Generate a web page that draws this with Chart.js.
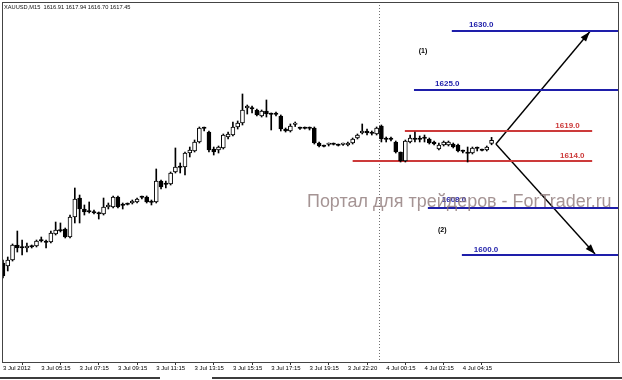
<!DOCTYPE html>
<html><head><meta charset="utf-8">
<script src="https://cdn.jsdelivr.net/npm/chart.js@4"></script>
<style>
html,body{margin:0;padding:0;background:#fff}
#wrap{position:relative;width:622px;height:380px;overflow:hidden}
.strip{position:absolute;top:377px;height:2px;background:#3c3c3c}
</style>
</head><body>
<div id="wrap"><canvas id="c" width="622" height="380"></canvas>
<div class="strip" style="left:0;width:160px"></div>
<div class="strip" style="left:212px;width:410px"></div>
</div>
<script>
const symbolTitle = "XAUUSD,M15";
const watermarkText = "Портал для трейдеров - ForTrader.ru";

const opens = [
1597.0,1596.5,1597.5,1600.0,1599.67,1599.5,1599.83,1599.83,1600.83,1600.67,
1600.5,1601.83,1602.5,1602.67,1601.33,1604.67,1607.83,1606.0,1605.67,1605.5,
1605.33,1605.17,1606.33,1606.33,1608.0,1606.67,1606.83,1607.0,1607.17,1608.0,
1608.0,1607.17,1607.17,1610.67,1610.17,1610.17,1612.17,1613.0,1613.0,1615.33,
1615.67,1617.17,1619.5,1618.83,1616.0,1615.83,1616.17,1618.0,1618.33,1619.67,
1620.33,1622.83,1622.83,1622.5,1621.5,1622.33,1621.83,1621.83,1621.5,1619.33,
1619.0,1620.08,1619.5,1619.5,1619.5,1619.5,1617.0,1616.5,1616.75,1616.83,
1616.67,1616.75,1616.67,1617.0,1617.83,1618.67,1619.0,1618.67,1618.5,1619.83,
1617.67,1617.67,1617.17,1615.5,1614.0,1617.17,1617.67,1617.67,1617.83,1617.67,
1617.17,1616.0,1616.67,1616.67,1616.83,1616.67,1615.67,1615.33,1615.33,1616.17,
1615.83,1615.83,1616.91];
const highs = [
1597.5,1598.0,1600.17,1602.33,1600.83,1600.33,1600.0,1600.83,1601.33,1600.83,
1602.33,1603.83,1603.67,1602.83,1605.0,1609.5,1608.33,1606.67,1607.17,1605.83,
1605.5,1607.83,1607.0,1608.17,1608.17,1607.0,1607.0,1607.5,1607.83,1608.17,
1608.17,1607.5,1612.67,1610.83,1610.67,1612.17,1616.17,1613.67,1615.5,1616.33,
1617.5,1619.67,1619.67,1619.0,1616.33,1616.5,1618.5,1618.83,1620.5,1620.67,
1625.17,1623.33,1623.17,1622.67,1622.5,1624.17,1622.0,1622.17,1621.67,1619.5,
1620.17,1620.5,1619.67,1619.67,1619.67,1619.67,1617.17,1616.67,1617.0,1617.0,
1616.83,1617.0,1617.17,1617.83,1618.5,1620.17,1619.33,1619.0,1619.67,1620.0,
1618.0,1618.0,1617.33,1615.5,1617.5,1618.33,1618.83,1618.17,1618.33,1617.83,
1617.33,1617.0,1617.33,1617.33,1617.0,1616.83,1615.83,1616.33,1616.33,1616.33,
1616.0,1616.5,1617.94];
const lows = [
1594.5,1595.67,1597.33,1598.83,1598.33,1598.83,1599.5,1599.67,1600.5,1599.5,
1600.33,1601.67,1602.17,1601.17,1601.17,1603.67,1603.67,1605.0,1605.33,1605.17,
1604.33,1605.0,1606.0,1606.17,1606.17,1606.0,1606.67,1606.83,1607.0,1607.67,
1607.0,1606.67,1607.0,1609.33,1609.5,1610.0,1612.0,1612.0,1611.67,1614.67,
1615.5,1617.0,1619.0,1615.5,1615.0,1615.33,1616.0,1617.67,1618.17,1619.33,
1620.0,1621.83,1622.0,1621.5,1621.33,1621.33,1619.17,1621.5,1619.0,1618.83,
1618.83,1619.75,1619.25,1619.33,1619.17,1616.83,1616.33,1616.33,1616.5,1616.67,
1616.5,1616.58,1616.5,1616.83,1617.67,1618.5,1618.33,1618.33,1618.33,1617.17,
1617.17,1617.33,1615.33,1613.83,1613.83,1617.0,1617.17,1617.17,1617.17,1616.83,
1616.67,1615.83,1616.5,1616.5,1616.17,1615.5,1615.33,1613.83,1615.17,1615.67,
1615.67,1615.67,1616.70];
const closes = [
1594.83,1597.5,1600.0,1599.5,1599.5,1599.83,1599.67,1600.67,1600.67,1600.42,
1602.0,1602.5,1602.33,1601.33,1604.67,1607.67,1606.0,1605.5,1605.5,1605.33,
1605.17,1606.33,1606.67,1608.0,1606.33,1606.58,1606.75,1607.33,1607.67,1607.92,
1607.17,1607.08,1610.67,1609.67,1610.08,1612.0,1613.0,1612.92,1615.33,1615.83,
1617.17,1619.5,1619.42,1615.83,1615.5,1616.33,1618.33,1618.5,1619.67,1620.33,
1622.5,1623.17,1622.67,1621.67,1622.33,1621.83,1621.75,1621.75,1619.33,1619.0,
1619.83,1620.17,1619.42,1619.42,1619.42,1617.0,1616.5,1616.42,1616.83,1616.75,
1616.58,1616.83,1617.0,1617.67,1618.33,1619.0,1618.67,1618.58,1619.5,1617.67,
1617.58,1617.58,1615.5,1614.0,1617.33,1617.83,1617.58,1617.58,1617.75,1617.0,
1616.83,1616.67,1617.17,1617.17,1616.33,1615.67,1615.58,1615.25,1616.17,1616.08,
1615.75,1616.33,1617.45];

const tickBars = [0,8,16,24,32,40,48,56,64,72,80,88,96];
const tickLabels = ["3 Jul 2012","3 Jul 05:15","3 Jul 07:15","3 Jul 09:15","3 Jul 11:15","3 Jul 13:15","3 Jul 15:15","3 Jul 17:15","3 Jul 19:15","3 Jul 22:20","4 Jul 00:15","4 Jul 02:15","4 Jul 04:15"];

// drawn levels (chart price units) and their printed labels
const levelValues = [1635.67, 1625.83, 1619.0, 1614.0, 1606.17, 1598.33];
const levelLabels = ["1630.0","1625.0","1619.0","1614.0","1608.0","1600.0"];
const scenarioLabels = ["(1)","(2)"];
const arrowFrom = 1616.83;
const arrowTargets = [1635.55, 1598.5];

// ---- layout / style (not data) ----
const levelLayout = [
  {start:93.7, end:128.6, color:'#1e1eaa', labelBar:97.3, dy:-6},
  {start:85.8, end:128.6, color:'#1e1eaa', labelBar:90.2, dy:-6},
  {start:83.9, end:123.0, color:'#cc3a3a', labelBar:115.3, dy:-5},
  {start:73.0, end:123.0, color:'#cc3a3a', labelBar:116.3, dy:-5},
  {start:88.7, end:128.6, color:'#1e1eaa', labelBar:91.6, dy:-8},
  {start:95.8, end:128.6, color:'#1e1eaa', labelBar:98.3, dy:-5}
];
const scenarioLayout = [{bar:86.8, price:1632.25},{bar:90.8, price:1602.5}];
const arrowLayout = {fromBar:102.9, toBars:[122.5, 123.6]};
const separatorBar = 78.6;

const n = opens.length;
const idx = opens.map((_, i) => i);

const datasets = [];
datasets.push({
  type:'bar', label:'body', order:0, grouped:false,
  data: idx.map(i => ({x:i, y:[Math.min(opens[i],closes[i]), Math.max(opens[i],closes[i])]})),
  backgroundColor: idx.map(i => closes[i] >= opens[i] ? '#ffffff' : '#000000'),
  borderColor:'#000000', borderWidth:1, borderSkipped:false,
  barThickness:4, minBarLength:1.5
});
datasets.push({
  type:'bar', label:'wick', order:1, grouped:false,
  data: idx.map(i => ({x:i, y:[lows[i], highs[i]]})),
  backgroundColor:'#000000', borderWidth:0, barThickness:1
});
levelValues.forEach((v, k) => {
  const L = levelLayout[k];
  datasets.push({
    type:'line', label:levelLabels[k], order:2,
    data:[{x:L.start, y:v},{x:L.end, y:v}],
    borderColor:L.color, borderWidth:2, pointRadius:0, fill:false
  });
});
const arrowIdx = [];
arrowTargets.forEach((t, k) => {
  arrowIdx.push(datasets.length);
  datasets.push({
    type:'line', label:'arrow'+k, order:2,
    data:[{x:arrowLayout.fromBar, y:arrowFrom},{x:arrowLayout.toBars[k], y:t}],
    borderColor:'#000000', borderWidth:1.4, pointRadius:0, fill:false
  });
});

const overlay = {
  id:'overlay',
  beforeDatasetsDraw(chart){
    const {ctx, chartArea:a, scales:{x}} = chart;
    ctx.save();
    ctx.strokeStyle = '#707070'; ctx.lineWidth = 1; ctx.setLineDash([1,2]);
    const sx = Math.round(x.getPixelForValue(separatorBar)) + 0.5;
    ctx.beginPath(); ctx.moveTo(sx, a.top); ctx.lineTo(sx, a.bottom); ctx.stroke();
    ctx.restore();
  },
  afterDatasetsDraw(chart){
    const {ctx, chartArea:a, scales:{x, y}} = chart;
    ctx.save();
    arrowIdx.forEach(di => {
      const pts = chart.getDatasetMeta(di).data;
      const p0 = pts[0], p1 = pts[1];
      const ang = Math.atan2(p1.y - p0.y, p1.x - p0.x);
      const len = 10, hw = 3.5;
      ctx.fillStyle = '#000';
      ctx.beginPath();
      ctx.moveTo(p1.x, p1.y);
      ctx.lineTo(p1.x - len*Math.cos(ang) + hw*Math.sin(ang), p1.y - len*Math.sin(ang) - hw*Math.cos(ang));
      ctx.lineTo(p1.x - len*Math.cos(ang) - hw*Math.sin(ang), p1.y - len*Math.sin(ang) + hw*Math.cos(ang));
      ctx.closePath(); ctx.fill();
    });
    ctx.font = 'bold 8px "Liberation Sans", Arial, sans-serif';
    ctx.textBaseline = 'middle'; ctx.textAlign = 'left';
    levelValues.forEach((v, k) => {
      const L = levelLayout[k];
      ctx.fillStyle = L.color;
      ctx.fillText(levelLabels[k], x.getPixelForValue(L.labelBar), y.getPixelForValue(v) + L.dy);
    });
    ctx.font = 'bold 7px "Liberation Sans", Arial, sans-serif';
    ctx.fillStyle = '#000';
    scenarioLabels.forEach((t, k) => {
      const S = scenarioLayout[k];
      ctx.fillText(t, x.getPixelForValue(S.bar), y.getPixelForValue(S.price));
    });
    ctx.restore();
  },
  afterDraw(chart){
    const {ctx, chartArea:a} = chart;
    ctx.save();
    ctx.strokeStyle = '#444'; ctx.lineWidth = 1;
    ctx.strokeRect(a.left + 0.5, a.top + 0.5, a.right - a.left - 1, a.bottom - a.top);
    const last = n - 1;
    const head = symbolTitle + '  ' + [opens[last], highs[last], lows[last], closes[last]].map(v => v.toFixed(2)).join(' ');
    ctx.font = '5.7px "Liberation Sans", Arial, sans-serif';
    ctx.fillStyle = '#111'; ctx.textBaseline = 'middle'; ctx.textAlign = 'left';
    ctx.fillText(head, 4, 7);
    // watermark, fitted to its width in the reference
    let fs = 18.5;
    ctx.font = fs + 'px "Liberation Sans", Arial, sans-serif';
    const w = ctx.measureText(watermarkText).width;
    fs = fs * 305 / w;
    ctx.font = fs.toFixed(2) + 'px "Liberation Sans", Arial, sans-serif';
    ctx.textBaseline = 'alphabetic';
    ctx.fillStyle = 'rgba(135,112,112,0.75)';
    ctx.fillText(watermarkText, 307, 206.5);
    ctx.restore();
  }
};

new Chart(document.getElementById('c'), {
  type:'bar',
  data:{datasets},
  options:{
    responsive:false, animation:false, devicePixelRatio:1,
    layout:{padding:{left:2, right:3, top:2, bottom:0}},
    plugins:{legend:{display:false}, tooltip:{enabled:false}, title:{display:false}},
    scales:{
      x:{
        type:'linear', min:-0.2, max:128.6, offset:false,
        grid:{display:true, drawOnChartArea:false, drawTicks:true, tickLength:3, color:'#333'},
        border:{display:true, color:'#444'},
        afterBuildTicks: s => { s.ticks = tickBars.map(v => ({value:v})); },
        afterFit: s => { s.height = 18; },
        ticks:{
          autoSkip:false, maxRotation:0, minRotation:0, align:'start', padding:0,
          color:'#000', font:{family:'"Liberation Sans", Arial, sans-serif', size:6},
          callback: v => { const k = tickBars.indexOf(v); return k >= 0 ? tickLabels[k] : ''; }
        }
      },
      y:{display:false, min:1580.5, max:1640.5}
    }
  },
  plugins:[overlay]
});
</script>
</body></html>
